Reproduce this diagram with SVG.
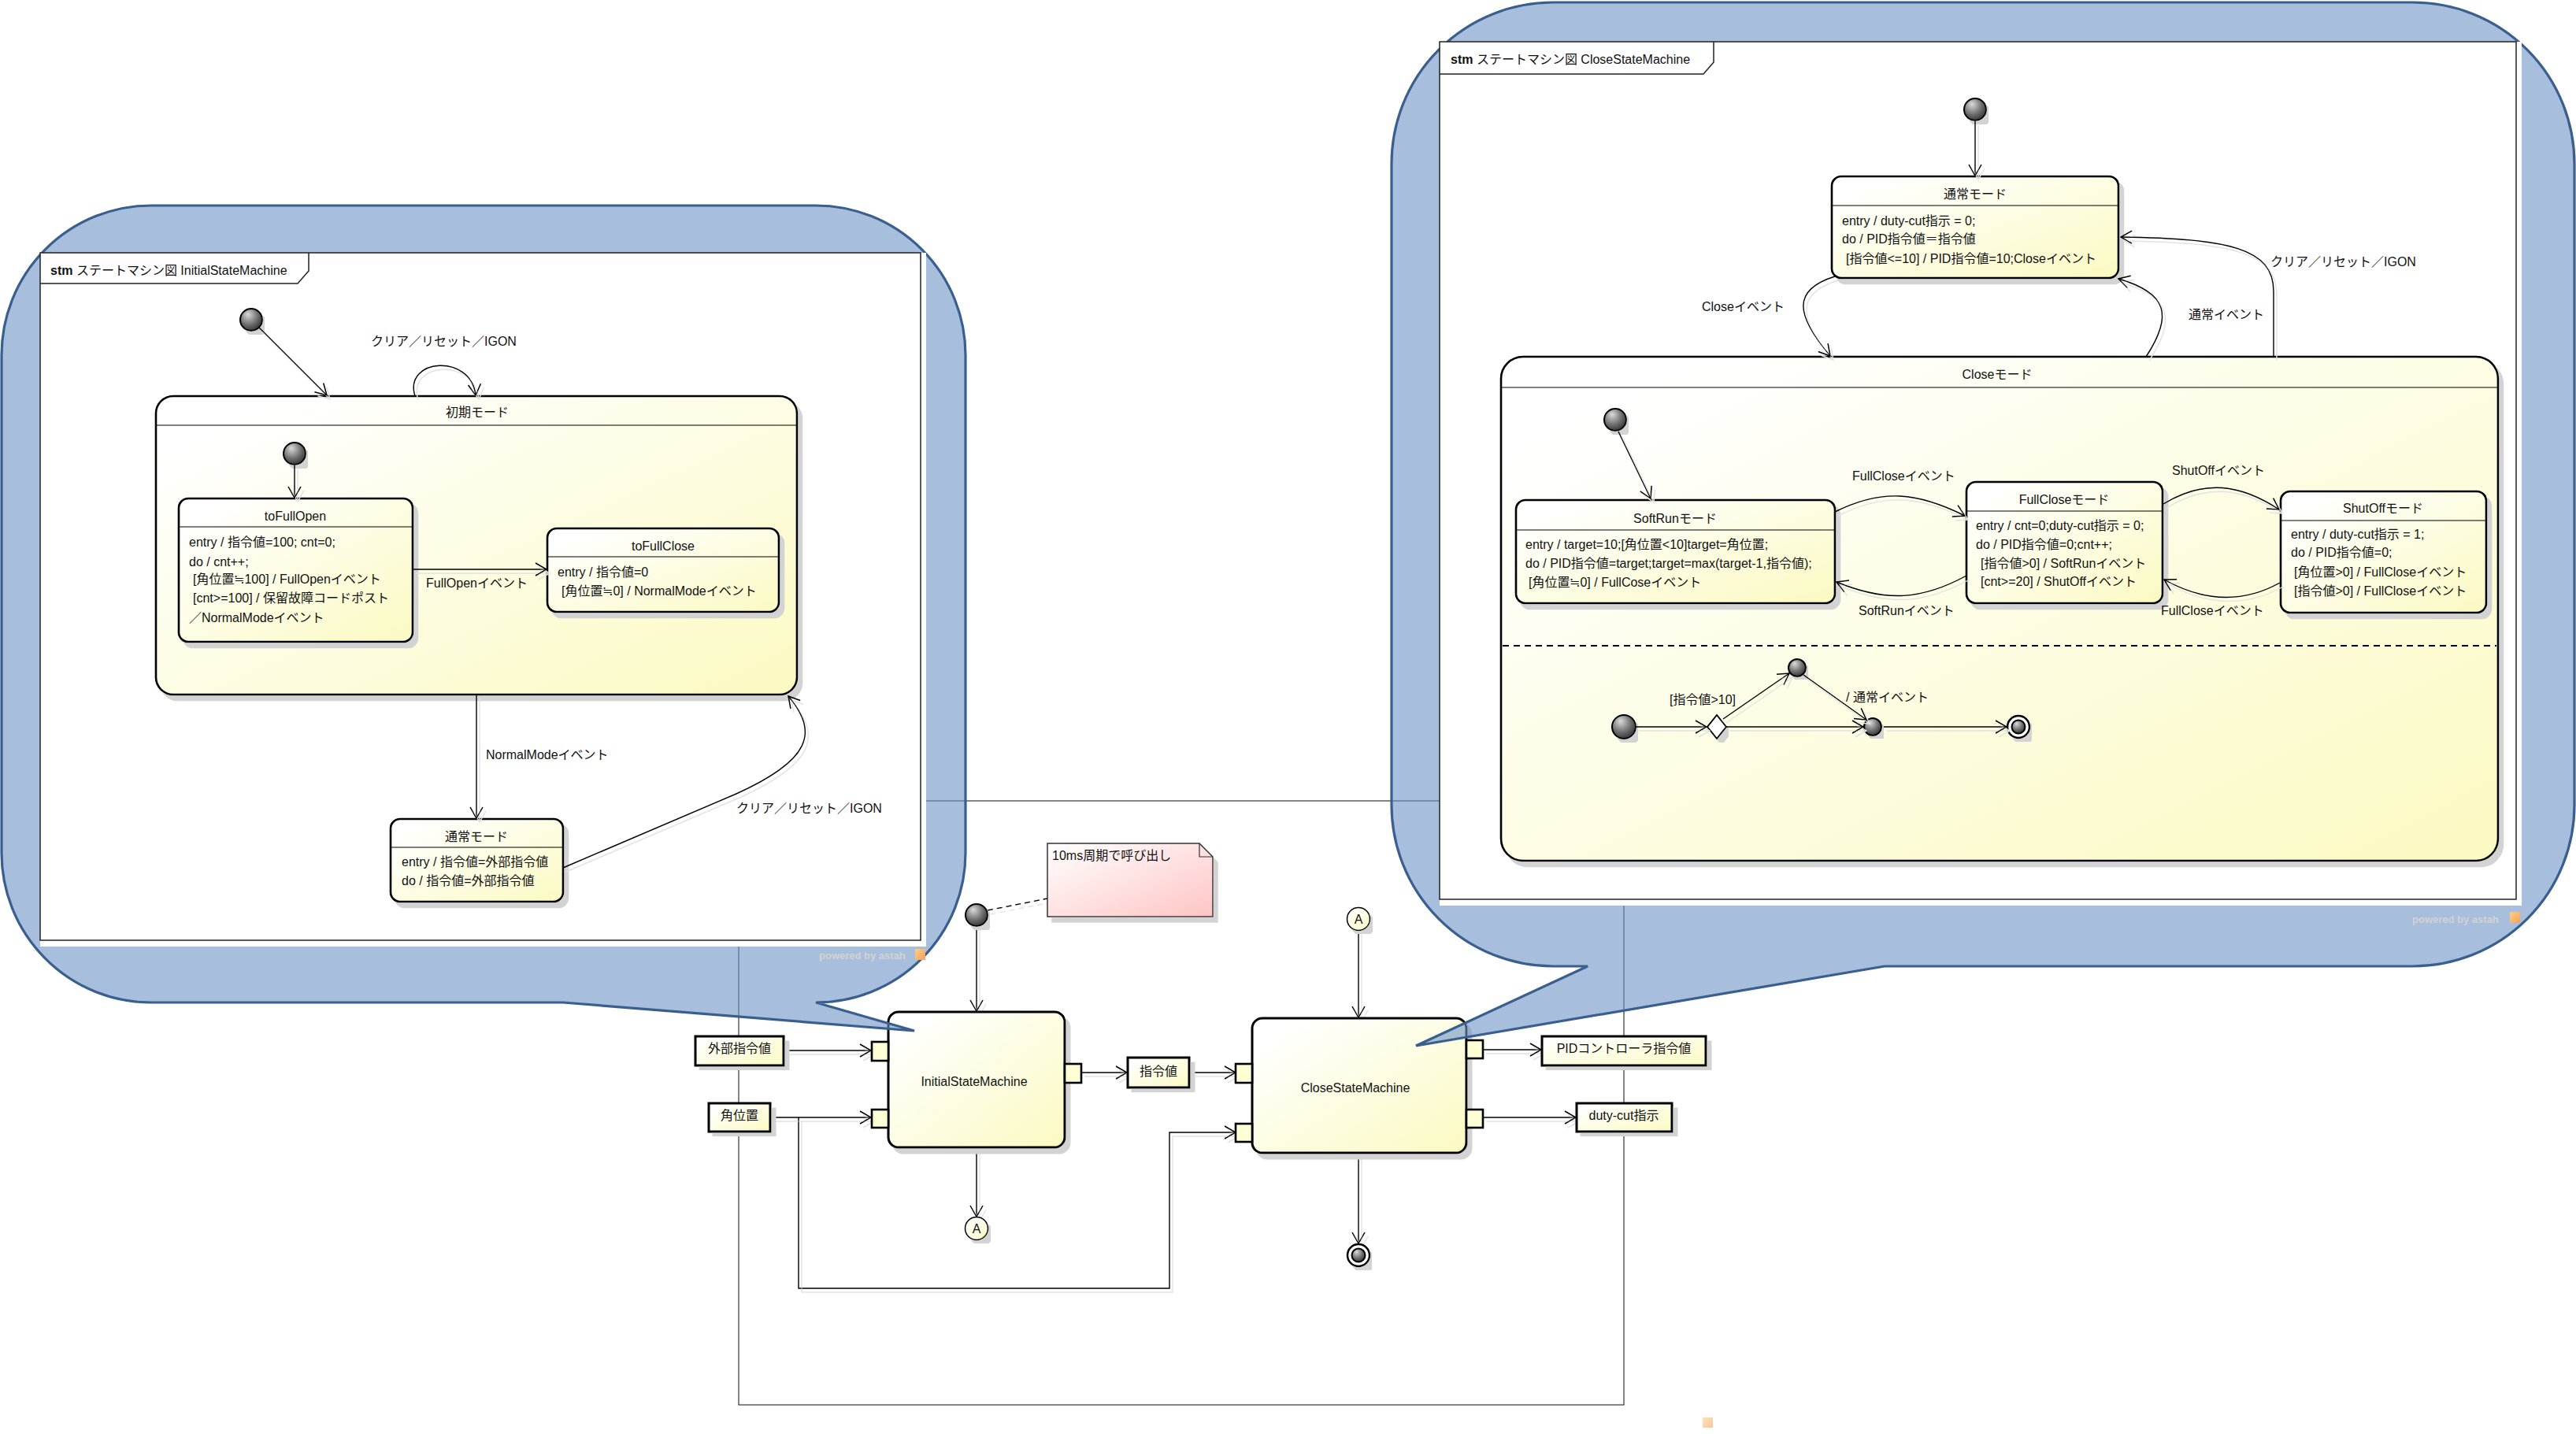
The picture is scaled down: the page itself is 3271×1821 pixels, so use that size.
<svg xmlns="http://www.w3.org/2000/svg" width="3271" height="1821" viewBox="0 0 3271 1821">
<style>
text{font-family:"Liberation Sans","Noto Sans CJK JP",sans-serif;font-size:16px;fill:#111}
.c{text-anchor:middle}
.st{fill:url(#gY);stroke:#000;stroke-width:2.6}
.hd{stroke:#000;stroke-width:1.2}
.ln{fill:none;stroke:#000;stroke-width:1.4;marker-end:url(#ar)}
.ln0{fill:none;stroke:#000;stroke-width:1.4}
.dot{fill:url(#gD);stroke:#000;stroke-width:2}
.port{fill:#ffffd6;stroke:#000;stroke-width:2.6}
.box{fill:url(#gY);stroke:#000;stroke-width:3}
.callout{fill:#6c94c5;fill-opacity:0.6;stroke:#3a5f8f;stroke-width:3.2}
.wm{font-size:13px;fill:#d2d2d2;font-weight:bold}
</style>
<defs>
<linearGradient id="gY" x1="0" y1="0" x2="1" y2="1"><stop offset="0.1" stop-color="#ffffff"/><stop offset="1" stop-color="#fbfac2"/></linearGradient>
<linearGradient id="gP" x1="0" y1="0" x2="1" y2="1"><stop offset="0" stop-color="#ffffff"/><stop offset="1" stop-color="#ffc4c4"/></linearGradient>
<radialGradient id="gD" cx="0.4" cy="0.35" r="0.7" fx="0.35" fy="0.25"><stop offset="0" stop-color="#dcdcdc"/><stop offset="0.6" stop-color="#6e6e6e"/><stop offset="1" stop-color="#303030"/></radialGradient>
<linearGradient id="gO" x1="0" y1="0" x2="1" y2="1"><stop offset="0" stop-color="#ffd080"/><stop offset="1" stop-color="#f0a060"/></linearGradient>
<marker id="ar" viewBox="0 0 16 18" refX="15" refY="9" markerWidth="16" markerHeight="18" markerUnits="userSpaceOnUse" orient="auto"><path d="M1,1 L15,9 L1,17" fill="none" stroke="#000" stroke-width="1.5"/></marker>
<filter id="sh" x="-5%" y="-5%" width="115%" height="120%"><feOffset in="SourceAlpha" dx="6" dy="7" result="o"/><feFlood flood-color="#d3d3d3"/><feComposite in2="o" operator="in" result="s"/><feMerge><feMergeNode in="s"/><feMergeNode in="SourceGraphic"/></feMerge></filter>
<filter id="cs" x="-10%" y="-10%" width="130%" height="130%"><feOffset in="SourceAlpha" dx="4" dy="5" result="o"/><feFlood flood-color="#e2e2e2"/><feComposite in2="o" operator="in" result="s"/><feMerge><feMergeNode in="s"/><feMergeNode in="SourceGraphic"/></feMerge></filter>
</defs>
<rect width="3271" height="1821" fill="#fff"/>

<!-- ===== Bottom composite diagram ===== -->
<g id="outer-frame"><rect x="938" y="1017" width="1124" height="767" fill="none" stroke="#333" stroke-width="1.2"/></g>

<g id="bottom-connectors" filter="url(#cs)">
<path class="ln0" d="M1254,1156 L1330,1141" stroke-dasharray="7,5"/>
<path class="ln" d="M1240,1176 L1240,1284"/>
<path class="ln" d="M1240,1457 L1240,1545"/>
<path class="ln" d="M1725,1181 L1725,1292"/>
<path class="ln" d="M1725,1464 L1725,1579"/>
<path class="ln" d="M995,1334 L1106,1334"/>
<path class="ln" d="M978,1419 L1106,1419"/>
<path class="ln" d="M1014,1419 L1014,1636 L1485,1636 L1485,1438 L1569,1438"/>
<path class="ln" d="M1373,1362 L1431,1362"/>
<path class="ln" d="M1510,1362 L1569,1362"/>
<path class="ln" d="M1883,1333 L1957,1333"/>
<path class="ln" d="M1883,1419 L2001,1419"/>
</g>

<g id="note-10ms" filter="url(#sh)"><path d="M1330,1071 H1523 L1540,1088 V1164 H1330 Z" fill="url(#gP)" stroke="#333" stroke-width="1.5"/><path d="M1523,1071 V1088 H1540" fill="none" stroke="#333" stroke-width="1.2"/></g>
<text x="1336" y="1092">10ms周期で呼び出し</text>

<g id="init-bottom"><circle class="dot" cx="1240" cy="1162" r="14" filter="url(#sh)"/></g>
<g id="conn-A1"><circle cx="1240" cy="1560" r="14.5" fill="url(#gY)" stroke="#000" stroke-width="1.5" filter="url(#sh)"/><text class="c" x="1240" y="1566">A</text></g>
<g id="conn-A2"><circle cx="1725" cy="1167" r="14.5" fill="url(#gY)" stroke="#000" stroke-width="1.5" filter="url(#sh)"/><text class="c" x="1725" y="1173">A</text></g>
<g id="final-bottom" filter="url(#sh)"><circle cx="1725" cy="1594" r="14" fill="#fff" stroke="#000" stroke-width="2.5"/><circle class="dot" cx="1725" cy="1594" r="8.5" stroke-width="1"/></g>

<g id="ism"><rect class="box" x="1128" y="1285" width="224" height="172" rx="13" filter="url(#sh)"/><text class="c" x="1237" y="1379">InitialStateMachine</text>
<rect class="port" x="1107" y="1323" width="21" height="24"/><rect class="port" x="1107" y="1409" width="21" height="23"/><rect class="port" x="1352" y="1351" width="21" height="24"/></g>
<g id="csm"><rect class="box" x="1590" y="1293" width="272" height="171" rx="13" filter="url(#sh)"/><text class="c" x="1721" y="1387">CloseStateMachine</text>
<rect class="port" x="1569" y="1351" width="21" height="24"/><rect class="port" x="1569" y="1427" width="21" height="23"/><rect class="port" x="1862" y="1321" width="21" height="23"/><rect class="port" x="1862" y="1409" width="21" height="23"/></g>

<g id="in-gaibu"><rect class="box" x="883" y="1316" width="112" height="37" filter="url(#sh)"/><text class="c" x="939" y="1337">外部指令値</text></g>
<g id="in-kakuichi"><rect class="box" x="900" y="1401" width="78" height="36" filter="url(#sh)"/><text class="c" x="939" y="1422">角位置</text></g>
<g id="mid-shirei"><rect class="box" x="1432" y="1343" width="78" height="38" filter="url(#sh)"/><text class="c" x="1471" y="1366">指令値</text></g>
<g id="out-pid"><rect class="box" x="1958" y="1316" width="208" height="37" filter="url(#sh)"/><text class="c" x="2062" y="1337">PIDコントローラ指令値</text></g>
<g id="out-duty"><rect class="box" x="2002" y="1401" width="121" height="36" filter="url(#sh)"/><text class="c" x="2062" y="1422">duty-cut指示</text></g>

<rect x="2162" y="1800" width="13" height="13" fill="url(#gO)" opacity="0.6"/>

<!-- ===== Callouts ===== -->
<g id="callout-left"><path class="callout" d="M192,261 H1036 A190,190 0 0 1 1226,451 V1083 A190,190 0 0 1 1036,1273 L1161,1309 L715,1273 H192 A190,190 0 0 1 2,1083 V451 A190,190 0 0 1 192,261 Z"/></g>
<g id="callout-right"><path class="callout" d="M1972,3 H3064 A205,205 0 0 1 3269,208 V1022 A205,205 0 0 1 3064,1227 H2393 L1798,1328 L2016,1227 H1972 A205,205 0 0 1 1767,1022 V208 A205,205 0 0 1 1972,3 Z"/></g>

<!-- ===== Left state machine ===== -->
<g id="frame-initial">
<rect x="51" y="321" width="1125" height="881" fill="#fff"/>
<rect x="51" y="321" width="1118" height="873" fill="none" stroke="#222" stroke-width="1.5"/>
<path d="M51,360 H378 L392,344 V321" fill="none" stroke="#222" stroke-width="1.5"/>
<text x="64" y="349"><tspan font-weight="bold">stm</tspan> ステートマシン図 InitialStateMachine</text>
<text class="wm" x="1040" y="1218">powered by astah</text><rect x="1162" y="1205" width="13" height="14" fill="url(#gO)"/>
</g>

<g id="s-shoki"><rect class="st" x="198" y="503" width="814" height="379" rx="22" filter="url(#sh)"/><line class="hd" x1="199" y1="540" x2="1011" y2="540"/><text class="c" x="606" y="529">初期モード</text></g>
<g id="i-left1"><circle class="dot" cx="319" cy="406" r="14" filter="url(#sh)"/></g>
<g id="i-left2"><circle class="dot" cx="374" cy="576" r="14" filter="url(#sh)"/></g>
<g id="s-tofullopen"><rect class="st" x="227" y="633" width="297" height="182" rx="12" filter="url(#sh)"/><line class="hd" x1="228" y1="669" x2="523" y2="669"/>
<text class="c" x="375" y="661">toFullOpen</text>
<text x="240" y="694">entry / 指令値=100; cnt=0;</text>
<text x="240" y="719">do / cnt++;</text>
<text x="245" y="741">[角位置≒100] / FullOpenイベント</text>
<text x="245" y="765">[cnt&gt;=100] / 保留故障コードポスト</text>
<text x="240" y="790">／NormalModeイベント</text></g>
<g id="s-tofullclose"><rect class="st" x="695" y="671" width="294" height="106" rx="12" filter="url(#sh)"/><line class="hd" x1="696" y1="707" x2="988" y2="707"/>
<text class="c" x="842" y="699">toFullClose</text>
<text x="708" y="732">entry / 指令値=0</text>
<text x="713" y="756">[角位置≒0] / NormalModeイベント</text></g>
<g id="s-tsujo-left"><rect class="st" x="496" y="1040" width="219" height="105" rx="12" filter="url(#sh)"/><line class="hd" x1="497" y1="1076" x2="714" y2="1076"/>
<text class="c" x="605" y="1068">通常モード</text>
<text x="510" y="1100">entry / 指令値=外部指令値</text>
<text x="510" y="1124">do / 指令値=外部指令値</text></g>

<g id="left-connectors" filter="url(#cs)">
<path class="ln" d="M329,416 L415,502"/>
<path class="ln" d="M527,503 C512,455 598,448 604,502"/>
<path class="ln" d="M374,591 L374,632"/>
<path class="ln" d="M524,723 L694,723"/>
<path class="ln" d="M605,882 L605,1039"/>
<path class="ln" d="M715,1102 L935,1008 C1030,965 1040,930 1001,884"/>
</g>
<g id="left-labels">
<text x="471" y="439">クリア／リセット／IGON</text>
<text x="541" y="746">FullOpenイベント</text>
<text x="617" y="964">NormalModeイベント</text>
<text x="935" y="1032">クリア／リセット／IGON</text>
</g>

<!-- ===== Right state machine ===== -->
<g id="frame-close">
<rect x="1828" y="53" width="1374" height="1097" fill="#fff"/>
<rect x="1828" y="53" width="1367" height="1089" fill="none" stroke="#222" stroke-width="1.5"/>
<path d="M1828,94 H2163 L2176,79 V53" fill="none" stroke="#222" stroke-width="1.5"/>
<text x="1842" y="81"><tspan font-weight="bold">stm</tspan> ステートマシン図 CloseStateMachine</text>
<text class="wm" x="3063" y="1172">powered by astah</text><rect x="3187" y="1158" width="13" height="14" fill="url(#gO)"/>
</g>

<g id="i-right1"><circle class="dot" cx="2508" cy="139" r="14" filter="url(#sh)"/></g>
<g id="s-tsujo-right"><rect class="st" x="2326" y="224" width="364" height="129" rx="12" filter="url(#sh)"/><line class="hd" x1="2327" y1="261" x2="2689" y2="261"/>
<text class="c" x="2508" y="252">通常モード</text>
<text x="2339" y="286">entry / duty-cut指示 = 0;</text>
<text x="2339" y="309">do / PID指令値＝指令値</text>
<text x="2344" y="334">[指令値&lt;=10] / PID指令値=10;Closeイベント</text></g>

<g id="s-close"><rect class="st" x="1906" y="453" width="1266" height="640" rx="28" filter="url(#sh)"/><line class="hd" x1="1907" y1="492" x2="3171" y2="492"/>
<text class="c" x="2536" y="481">Closeモード</text>
<line x1="1908" y1="820" x2="3170" y2="820" stroke="#000" stroke-width="2" stroke-dasharray="8,6"/></g>

<g id="i-right2"><circle class="dot" cx="2051" cy="533" r="14" filter="url(#sh)"/></g>
<g id="s-softrun"><rect class="st" x="1925" y="635" width="405" height="131" rx="12" filter="url(#sh)"/><line class="hd" x1="1926" y1="673" x2="2329" y2="673"/>
<text class="c" x="2127" y="664">SoftRunモード</text>
<text x="1937" y="697">entry / target=10;[角位置&lt;10]target=角位置;</text>
<text x="1937" y="721">do / PID指令値=target;target=max(target-1,指令値);</text>
<text x="1941" y="745">[角位置≒0] / FullCoseイベント</text></g>
<g id="s-fullclose"><rect class="st" x="2497" y="612" width="249" height="154" rx="12" filter="url(#sh)"/><line class="hd" x1="2498" y1="649" x2="2745" y2="649"/>
<text class="c" x="2621" y="640">FullCloseモード</text>
<text x="2509" y="673">entry / cnt=0;duty-cut指示 = 0;</text>
<text x="2509" y="697">do / PID指令値=0;cnt++;</text>
<text x="2515" y="721">[指令値&gt;0] / SoftRunイベント</text>
<text x="2515" y="744">[cnt&gt;=20] / ShutOffイベント</text></g>
<g id="s-shutoff"><rect class="st" x="2896" y="624" width="261" height="154" rx="12" filter="url(#sh)"/><line class="hd" x1="2897" y1="661" x2="3156" y2="661"/>
<text class="c" x="3026" y="651">ShutOffモード</text>
<text x="2909" y="684">entry / duty-cut指示 = 1;</text>
<text x="2909" y="707">do / PID指令値=0;</text>
<text x="2913" y="732">[角位置&gt;0] / FullCloseイベント</text>
<text x="2913" y="756">[指令値&gt;0] / FullCloseイベント</text></g>

<g id="i-right3"><circle class="dot" cx="2062" cy="923" r="15" filter="url(#sh)"/></g>
<g id="choice"><path d="M2180,908 L2192,923 L2180,938 L2168,923 Z" fill="#fff" stroke="#000" stroke-width="2" filter="url(#sh)"/></g>
<g id="j-upper"><circle class="dot" cx="2282" cy="848" r="11" filter="url(#sh)"/></g>
<g id="j-lower"><circle class="dot" cx="2378" cy="923" r="11" filter="url(#sh)"/></g>
<g id="final-right" filter="url(#sh)"><circle cx="2563" cy="923" r="14" fill="#fff" stroke="#000" stroke-width="2.5"/><circle class="dot" cx="2563" cy="923" r="8.5" stroke-width="1"/></g>

<g id="right-connectors" filter="url(#cs)">
<path class="ln" d="M2508,154 L2508,223"/>
<path class="ln" d="M2330,351 C2275,368 2280,400 2324,452"/>
<path class="ln" d="M2725,453 C2760,400 2752,372 2690,354"/>
<path class="ln" d="M2887,453 L2887,370 C2887,315 2830,303 2693,301"/>
<path class="ln" d="M2055,548 L2096,633"/>
<path class="ln" d="M2330,650 C2390,620 2435,625 2495,655"/>
<path class="ln" d="M2497,731 C2440,762 2395,765 2332,739"/>
<path class="ln" d="M2747,640 C2800,608 2845,615 2894,647"/>
<path class="ln" d="M2895,740 C2850,765 2800,765 2748,736"/>
<path class="ln" d="M2077,923 L2167,923"/>
<path class="ln" d="M2192,923 L2366,923"/>
<path class="ln" d="M2188,913 L2272,855"/>
<path class="ln" d="M2290,857 L2370,914"/>
<path class="ln" d="M2392,923 L2548,923"/>
</g>
<g id="right-labels">
<text x="2161" y="395">Closeイベント</text>
<text x="2779" y="405">通常イベント</text>
<text x="2883" y="338">クリア／リセット／IGON</text>
<text x="2352" y="610">FullCloseイベント</text>
<text x="2758" y="603">ShutOffイベント</text>
<text x="2360" y="781">SoftRunイベント</text>
<text x="2744" y="781">FullCloseイベント</text>
<text x="2120" y="894">[指令値&gt;10]</text>
<text x="2344" y="891">/ 通常イベント</text>
</g>
</svg>
